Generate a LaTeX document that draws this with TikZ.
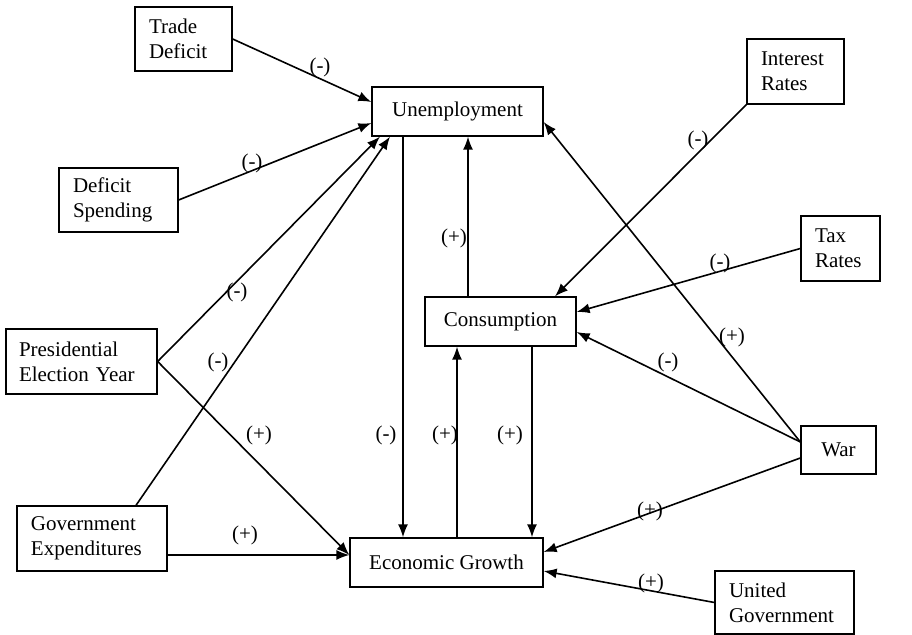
\documentclass[tikz,border=0pt]{standalone}
\usepackage{fontspec}
\setmainfont{Liberation Serif}
\usetikzlibrary{arrows.meta,calc}
\begin{document}
\begin{tikzpicture}[x=0.5pt,y=-0.5pt,
  font=\fontsize{10.5}{12.5}\selectfont,
  box/.style={draw, line width=0.65pt, inner sep=0pt, inner xsep=7pt, align=left},
  cbox/.style={draw, line width=0.65pt, inner sep=0pt, align=center},
  arr/.style={line width=0.8pt, -{Latex[length=6.5pt,width=5pt]}},
  lbl/.style={inner sep=0pt}]
\useasboundingbox[fill=white] (0,0) rectangle (912,635);
% boxes
\node[box, text width=34.5pt, minimum height=32pt] (trade) at (183.5,39) {Trade\\Deficit};
\node[box, text width=45.5pt, minimum height=32pt] (deficit) at (118.5,200) {Deficit\\Spending};
\node[box, text width=62.5pt, inner xsep=6.5pt, minimum height=32.5pt] (pres) at (81.5,361.5) {Presidential\\Election Year};
\node[box, text width=61pt, minimum height=32.5pt] (gov) at (92,538.5) {Government\\Expenditures};
\node[cbox, minimum width=85.5pt, minimum height=24.5pt] (unemp) at (457.5,111.5) {Unemployment};
\node[cbox, minimum width=75.5pt, minimum height=24.5pt] (cons) at (500.5,321.5) {Consumption};
\node[cbox, minimum width=96.5pt, minimum height=24.5pt] (econ) at (446.5,562.5) {Economic Growth};
\node[box, text width=34.5pt, minimum height=32.5pt] (interest) at (795.5,71.5) {Interest\\Rates};
\node[box, text width=25.5pt, minimum height=32.5pt] (tax) at (840.5,248.5) {Tax\\Rates};
\node[cbox, minimum width=37.5pt, minimum height=24pt] (war) at (838.5,450) {War};
\node[box, text width=55.5pt, minimum height=31.5pt] (united) at (784.5,602.5) {United\\Government};
% connectors
\draw[arr] (trade.east) -- ([yshift=4.75pt]unemp.west);
\draw[arr] (deficit.east) -- ([yshift=-5.75pt]unemp.west);
\draw[arr] (pres.east) -- ([xshift=-38.75pt]unemp.south);
\draw[arr] ([xshift=22pt]gov.north) -- ([xshift=-33.75pt]unemp.south);
\draw[arr] (pres.east) -- ([yshift=3.75pt]econ.west);
\draw[arr] ([yshift=-8.25pt]gov.east) -- ([yshift=3.75pt]econ.west);
\draw[arr] ([xshift=-27.25pt]unemp.south) -- ([xshift=-27.25pt]unemp.south |- econ.north);
\draw[arr] ([xshift=-16.25pt]cons.north) -- ([xshift=-16.25pt]cons.north |- unemp.south);
\draw[arr] ([xshift=5.25pt]econ.north) -- ([xshift=5.25pt]econ.north |- cons.south);
\draw[arr] ([xshift=15.75pt]cons.south) -- ([xshift=15.75pt]cons.south |- econ.north);
\draw[arr] (interest.south west) -- ([xshift=27.25pt]cons.north);
\draw[arr] (tax.west) -- ([yshift=4.75pt]cons.east);
\draw[arr] ([yshift=4pt]war.west) -- ([yshift=-5.25pt]cons.east);
\draw[arr] ([yshift=4pt]war.west) -- ([yshift=-5.25pt]unemp.east);
\draw[arr] ([yshift=-4pt]war.west) -- ([yshift=5.25pt]econ.east);
\draw[arr] (united.west) -- ([yshift=-4.25pt]econ.east);
% labels
\node[lbl] (l1) at (320,67) {(-)};
\node[lbl] (l2) at (252,163) {(-)};
\node[lbl] (l3) at (237,292) {(-)};
\node[lbl] (l4) at (218,362) {(-)};
\node[lbl] (l5) at (259,435) {(+)};
\node[lbl] (l6) at (245,535) {(+)};
\node[lbl] (l7) at (386,435) {(-)};
\node[lbl] (l8) at (454,238) {(+)};
\node[lbl] (l9) at (445,435) {(+)};
\node[lbl] (l10) at (510,435) {(+)};
\node[lbl] (l11) at (698,140) {(-)};
\node[lbl] (l12) at (720,263) {(-)};
\node[lbl] (l13) at (668,362) {(-)};
\node[lbl] (l14) at (732,337) {(+)};
\node[lbl] (l15) at (650,511) {(+)};
\node[lbl] (l16) at (651,583) {(+)};
\end{tikzpicture}
\end{document}
